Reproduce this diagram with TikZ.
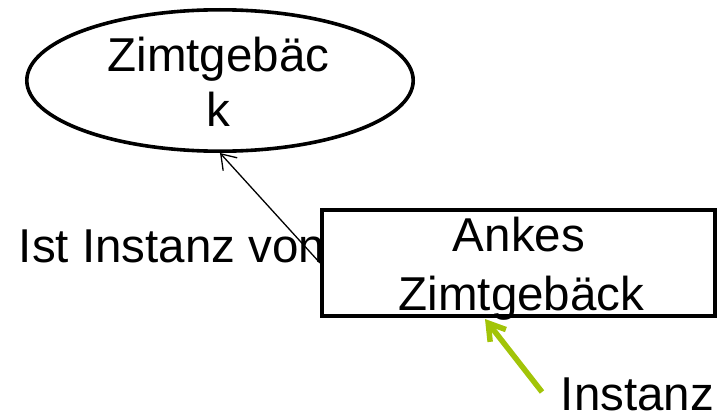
\documentclass[tikz,border=0pt]{standalone}
\usepackage{fontspec}
\setmainfont{Liberation Sans}
\usetikzlibrary{shapes.geometric,arrows.meta}
\definecolor{limegreen}{RGB}{162,196,8}
\tikzset{
  lbl/.style={inner sep=0pt, anchor=base, font=\fontsize{47.5}{56}\selectfont},
  shapeline/.style={draw=black, line width=3.6pt, inner sep=0pt},
  thinarrow/.style={draw=black, line width=1.3pt, -{Straight Barb[length=14pt,width=19pt]}},
  greenarrow/.style={draw=limegreen, line width=5.5pt, -{Straight Barb[length=16pt,width=20pt]}}
}
\begin{document}
\begin{tikzpicture}[x=1pt,y=-1pt]
\useasboundingbox (0,0) rectangle (727,412);
% ellipse (class)
\node[shapeline, ellipse, minimum width=386.4pt, minimum height=141.4pt] (zg) at (220,80.5) {};
\node[lbl] (zgt1) at (218.5,71.7) {Zimtgebäc};
\node[lbl] (zgt2) at (218.5,126.7) {k};
% relation label
\node[lbl, anchor=base west] (rel) at (18.6,262) {Ist Instanz von};
% instance box
\node[shapeline, rectangle, fill=white, minimum width=393.4pt, minimum height=106.4pt] (ak) at (518.5,263) {};
\draw[thinarrow] (ak.west) -- (zg.south);
\node[lbl] (akt1) at (519,251.7) {Ankes};
\node[lbl] (akt2) at (521.5,310) {Zimtgebäck};
% instance callout
\node[lbl, anchor=base west] (inst) at (560.6,410) {Instanz};
\coordinate (gtail) at (542,392);
\coordinate (gtip) at (485,319);
\draw[greenarrow] (gtail) -- (gtip);
\end{tikzpicture}
\end{document}
